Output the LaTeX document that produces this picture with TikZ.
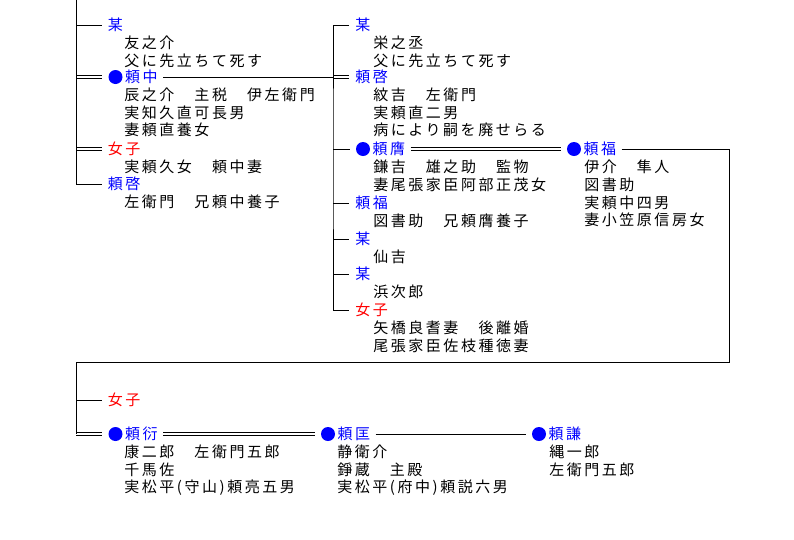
\documentclass[tikz,border=0pt]{standalone}
\usepackage{fontspec}
\newfontfamily\jp[LetterSpace=17]{Noto Sans CJK JP}
\usepackage{xcolor}
\definecolor{nameblue}{RGB}{0, 0, 255}
\definecolor{namered}{RGB}{255, 0, 0}
\usetikzlibrary{positioning}

\begin{document}
\begin{tikzpicture}[x=0.75pt,y=-0.75pt,
    every node/.style={inner sep=0pt},
    nm/.style={text=nameblue,anchor=west,font=\jp\fontsize{11.25pt}{13.35pt}\selectfont},
    fem/.style={nm,text=namered},
    dt/.style={anchor=north west,align=left,font=\jp\fontsize{11.25pt}{13.35pt}\selectfont},
    pdot/.style={circle,fill=nameblue,minimum size=10.5pt},
    ln/.style={line width=0.75pt},
    dbl/.style={double,double distance=1.5pt,line width=0.75pt}]
  \useasboundingbox (0,0) rectangle (794,540);
  % first generation
  \coordinate (t1) at (76,0);
  \node[nm] (a1) at (107.5,25) {某};
  \node[dt] (a1d) at (124,35.5) {友之介\\父に先立ちて死す};
  \node[pdot] (a2o) at (115.5,77) {};
  \node[nm,right=1.5pt of a2o] (a2) {頼中};
  \node[dt] (a2d) at (124,87.5) {辰之介　主税　伊左衛門\\実知久直可長男\\妻頼直養女};
  \node[fem] (a3) at (107.5,149) {女子};
  \node[dt] (a3d) at (124,159.5) {実頼久女　頼中妻};
  \node[nm] (a4) at (107.5,184) {頼啓};
  \node[dt] (a4d) at (124,194.5) {左衛門　兄頼中養子};
  % second generation
  \coordinate (t2) at (333,150);
  \node[nm] (b1) at (355,25) {某};
  \node[dt] (b1d) at (373,35.5) {栄之丞\\父に先立ちて死す};
  \node[nm] (b2) at (355,77) {頼啓};
  \node[dt] (b2d) at (373,87.5) {紋吉　左衛門\\実頼直二男\\病により嗣を廃せらる};
  \node[pdot] (b3o) at (363,149) {};
  \node[nm,right=1.5pt of b3o] (b3) {頼膺};
  \node[dt] (b3d) at (373,159.5) {鎌吉　雄之助　監物\\妻尾張家臣阿部正茂女};
  \node[nm] (b4) at (355,203) {頼福};
  \node[dt] (b4d) at (373,213.5) {図書助　兄頼膺養子};
  \node[nm] (b5) at (355,239) {某};
  \node[dt] (b5d) at (373,249.5) {仙吉};
  \node[nm] (b6) at (355,274) {某};
  \node[dt] (b6d) at (373,284.5) {浜次郎};
  \node[fem] (b7) at (355,310) {女子};
  \node[dt] (b7d) at (373,320.5) {矢橋良耆妻　後離婚\\尾張家臣佐枝種徳妻};
  % third generation
  \node[pdot] (c1o) at (574,149) {};
  \node[nm,right=1.5pt of c1o] (c1) {頼福};
  \node[dt] (c1d) at (584,159.5) {伊介　隼人\\図書助\\実頼中四男\\妻小笠原信房女};
  % fourth generation
  \coordinate (r1) at (729,362);
  \coordinate (r2) at (76,434);
  \node[fem] (d1) at (107.5,400) {女子};
  \node[pdot] (d2o) at (115.5,434) {};
  \node[nm,right=1.5pt of d2o] (d2) {頼衍};
  \node[dt] (d2d) at (124,444.5) {康二郎　左衛門五郎\\千馬佐\\実松平(守山)頼亮五男};
  \node[pdot] (d3o) at (328,434) {};
  \node[nm,right=1.5pt of d3o] (d3) {頼匡};
  \node[dt] (d3d) at (337,444.5) {静衛介\\錚蔵　主殿\\実松平(府中)頼説六男};
  \node[pdot] (d4o) at (539,434) {};
  \node[nm,right=1.5pt of d4o] (d4) {頼謙};
  \node[dt] (d4d) at (549,444.5) {縄一郎\\左衛門五郎};

  \draw[ln,shorten >=4.5pt] (a1.west -| t1) -- (a1.west);
  \draw[dbl,shorten >=4.5pt] (a2o.west -| t1) -- (a2o.west);
  \draw[dbl,shorten >=4.5pt] (a3.west -| t1) -- (a3.west);
  \draw[ln,shorten >=4.5pt] (t1) |- (a4.west);
  \draw[ln,shorten <=4pt] (a2.east) -- (a2.east -| t2);
  \draw[dbl,shorten >=4.5pt] (b2.west -| t2) -- (b2.west);
  \draw[ln,shorten >=4.5pt] (b3o.west -| t2) -- (b3o.west);
  \draw[ln,shorten >=4.5pt] (b4.west -| t2) -- (b4.west);
  \draw[ln,shorten >=4.5pt] (b5.west -| t2) -- (b5.west);
  \draw[ln,shorten >=4.5pt] (b6.west -| t2) -- (b6.west);
  \draw[ln,shorten <=4.5pt,shorten >=4.5pt] (b1.west) -| (t2) |- (b7.west);
  \draw[dbl,shorten <=4pt,shorten >=4.5pt] (b3.east) -- (c1o.west);
  \draw[ln,shorten >=4.5pt] (d1.west -| r2) -- (d1.west);
  \draw[dbl,shorten >=4.5pt] (r2) -- (d2o.west);
  \draw[ln,shorten <=4pt] (c1.east) -| (r1) -| (r2);
  \draw[dbl,shorten <=4pt,shorten >=4.5pt] (d2.east) -- (d3o.west);
  \draw[ln,shorten <=4pt,shorten >=4.5pt] (d3.east) -- (d4o.west);
\end{tikzpicture}
\end{document}
